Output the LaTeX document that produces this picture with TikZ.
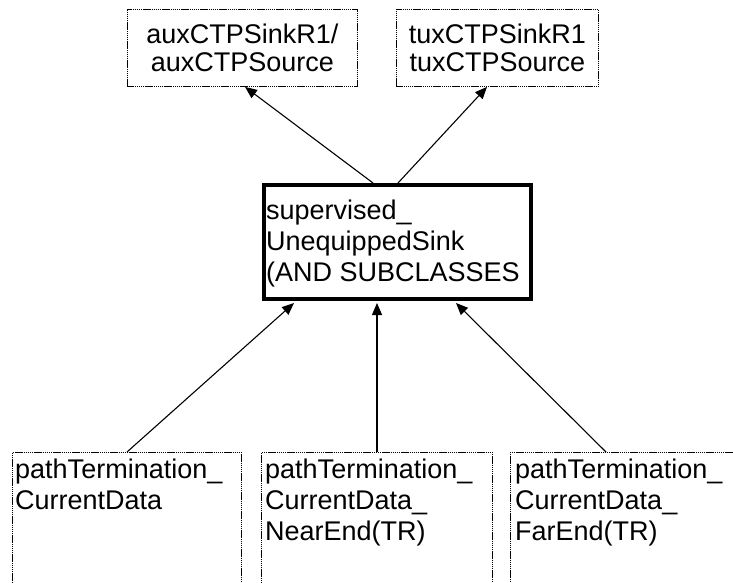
\documentclass[tikz,border=0pt]{standalone}
\usepackage{fontspec}
\setmainfont{Liberation Sans}
\usetikzlibrary{arrows.meta}
\newcommand\diagfont{\fontsize{27}{28}\selectfont}
\newcommand\diagfontb{\fontsize{27}{31}\selectfont}
\begin{document}
\begin{tikzpicture}[x=1pt,y=-1pt,
  dotbox/.style={draw, line width=0.9pt, dash pattern=on 1.3pt off 0.6pt,
    rectangle, inner sep=0pt, anchor=north west},
  mainbox/.style={draw, line width=4pt, rectangle, inner sep=0pt, anchor=north west},
  boxtext/.style={anchor=north west, inner sep=0pt, align=left, font=\diagfontb},
  arr/.style={-{Triangle[length=12pt,width=10pt]}, line width=1.1pt}
]
\useasboundingbox (0,0) rectangle (733,583);
\fill[white] (0,0) rectangle (733,583);
\clip (0,0) rectangle (733,583);

% top boxes
\node[dotbox, minimum width=230pt, minimum height=77pt, align=center, font=\diagfont]
  (ta) at (127,9) {auxCTPSinkR1/\\auxCTPSource};
\node[dotbox, minimum width=202pt, minimum height=77pt, align=center, font=\diagfont]
  (tb) at (396,9) {tuxCTPSinkR1\\tuxCTPSource};

% central box
\node[mainbox, minimum width=267pt, minimum height=114pt] (c) at (262,183) {};
\node[boxtext] (ct) at (266,200) {supervised\_\\UnequippedSink\\(AND SUBCLASSES};

% bottom boxes
\node[dotbox, minimum width=229pt, minimum height=180pt] (b1) at (12,452) {};
\node[dotbox, minimum width=231pt, minimum height=180pt] (b2) at (261,452) {};
\node[dotbox, minimum width=240pt, minimum height=180pt] (b3) at (510,452) {};
\node[boxtext] (b1t) at (15,459) {pathTermination\_\\CurrentData};
\node[boxtext] (b2t) at (265,459) {pathTermination\_\\CurrentData\_\\NearEnd(TR)};
\node[boxtext] (b3t) at (515,459) {pathTermination\_\\CurrentData\_\\FarEnd(TR)};

% connectors
\draw[arr] ([xshift=111pt]c.north west) -- ([xshift=118pt]ta.south west);
\draw[arr] ([xshift=136pt]c.north west) -- ([xshift=91pt]tb.south west);
\draw[arr] ([xshift=115pt]b1.north west) -- ([xshift=32pt,yshift=-2pt]c.south west);
\draw[arr] ([xshift=116pt]b2.north west) -- ([xshift=115pt,yshift=-2pt]c.south west);
\draw[arr] ([xshift=96pt]b3.north west) -- ([xshift=194pt,yshift=-2pt]c.south west);
\end{tikzpicture}
\end{document}
